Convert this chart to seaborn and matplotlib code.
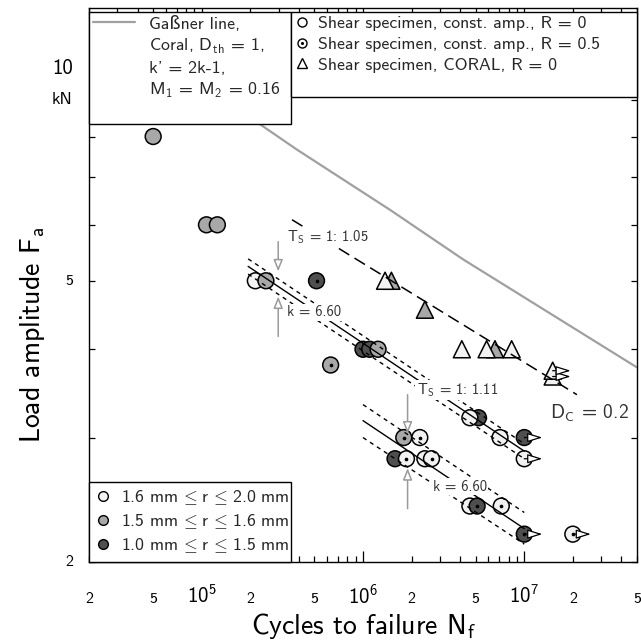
import numpy as np
import pandas as pd
import matplotlib
matplotlib.use("Agg")
import matplotlib.pyplot as plt
import seaborn as sns
from matplotlib.lines import Line2D
from matplotlib import transforms
from matplotlib.ticker import FixedLocator, NullFormatter

# ---------------- data ----------------
# circular markers: shear specimens, constant amplitude
circ_N = [5.0e4, 1.07e5, 1.25e5, 2.15e5, 2.5e5, 5.15e5, 6.3e5, 1.0e6, 1.1e6, 1.24e6,
          1.79e6, 2.25e6, 1.58e6, 1.86e6, 2.42e6, 2.66e6, 5.2e6, 4.6e6, 7.07e6, 1.0e7,
          1.0e7, 4.6e6, 5.1e6, 7.2e6, 1.0e7, 2.0e7]
circ_F = [8.0, 6.0, 6.0, 5.0, 5.0, 5.0, 3.8, 4.0, 4.0, 4.0,
          3.0, 3.0, 2.8, 2.8, 2.8, 2.8, 3.2, 3.2, 3.0, 3.0,
          2.8, 2.4, 2.4, 2.4, 2.19, 2.19]
circ_r = ["mid", "mid", "mid", "large", "mid", "small", "mid", "small", "small", "mid",
          "mid", "large", "small", "large", "large", "large", "small", "large", "large", "small",
          "large", "large", "small", "large", "small", "large"]
circ_R = [0, 0, 0, 0, 0, 0.5, 0.5, 0, 0, 0,
          0.5, 0.5, 0, 0.5, 0, 0.5, 0, 0, 0, 0,
          0, 0, 0.5, 0.5, 0.5, 0.5]
circ_runout = [False] * 19 + [True, True, False, False, False, True, True]

# triangles: shear specimens, CORAL spectrum, R = 0
tri_N = [1.5e6, 1.37e6, 2.42e6, 6.58e6, 4.1e6, 5.84e6, 8.35e6, 1.5e7, 1.5e7]
tri_F = [5.0, 5.0, 4.55, 4.0, 4.0, 4.0, 4.0, 3.66, 3.73]
tri_r = ["mid", "large", "mid", "mid", "large", "large", "large", "large", "large"]
tri_runout = [False] * 7 + [True, True]

# Gassner line (Coral, D_th = 1)
gass_N = [1.2e5, 2.09e5, 3.88e5, 1.47e6, 4.18e6, 5.0e7]
gass_F = [9.2, 8.45, 7.67, 6.30, 5.36, 3.77]

# regression line 1 (k = 6.60, T_S = 1:1.05) with scatter band
reg1_N = [1.94e5, 1.0e7]
reg1_F = [5.24, 2.87]
reg1_up = [5.37, 2.94]
reg1_lo = [5.11, 2.80]
# regression line 2 (k = 6.60, T_S = 1:1.11) with scatter band
reg2_N = [1.0e6, 1.0e7]
reg2_F = [3.17, 2.23]
reg2_up = [3.34, 2.35]
reg2_lo = [3.00, 2.12]
# CORAL line, D_C = 0.2
coral_N = [3.63e5, 2.12e7]
coral_F = [6.10, 3.45]

x_ticks = [2e4, 5e4, 1e5, 2e5, 5e5, 1e6, 2e6, 5e6, 1e7, 2e7, 5e7]
x_tick_labels = ["2", "5", r"$\mathrm{10}^{\mathrm{5}}$", "2", "5", r"$\mathrm{10}^{\mathrm{6}}$",
                 "2", "5", r"$\mathrm{10}^{\mathrm{7}}$", "2", "5"]
y_ticks = [2, 5, 10]
y_tick_labels = ["2", "5", "10"]

r_colors = {"large": "#f2f2f2", "mid": "#a8a8a8", "small": "#4f4f4f"}
r_labels = {"large": r"1.6 mm$\,\leq\,$r$\,\leq\,$2.0 mm",
            "mid": r"1.5 mm$\,\leq\,$r$\,\leq\,$1.6 mm",
            "small": r"1.0 mm$\,\leq\,$r$\,\leq\,$1.5 mm"}

# ---------------- style ----------------
sns.set_theme(style="white")
plt.rcParams["font.family"] = ["cmss10", "DejaVu Sans"]
plt.rcParams["mathtext.fontset"] = "custom"
plt.rcParams["mathtext.rm"] = "cmss10"
plt.rcParams["mathtext.sf"] = "cmss10"
plt.rcParams["mathtext.it"] = "cmss10"
plt.rcParams["mathtext.bf"] = "cmss10"
plt.rcParams["mathtext.fallback"] = "cm"
plt.rcParams["axes.unicode_minus"] = False

fig = plt.figure(figsize=(6.41, 6.44), dpi=100)
ax = fig.add_axes([89 / 641, (644 - 562) / 644, 548 / 641, 554 / 644])
ax.set_xscale("log")
ax.set_yscale("log")
ax.set_xlim(2e4, 5e7)
ax.set_ylim(2, 12.16)

df_c = pd.DataFrame({"N": circ_N, "F": circ_F, "r": circ_r, "R": circ_R, "runout": circ_runout})
df_t = pd.DataFrame({"N": tri_N, "F": tri_F, "r": tri_r, "runout": tri_runout})

GASS_C = "#a0a0a0"
ANN_C = "#333333"

# lines
ax.plot(gass_N, gass_F, color=GASS_C, lw=1.6, zorder=2, solid_capstyle="butt")
ax.plot(reg1_N, reg1_F, color="black", lw=1.0, zorder=4)
ax.plot(reg1_N, reg1_up, color="black", lw=1.0, dashes=(3, 3), zorder=4)
ax.plot(reg1_N, reg1_lo, color="black", lw=1.0, dashes=(3, 3), zorder=4)
ax.plot(reg2_N, reg2_F, color="black", lw=1.0, zorder=4)
ax.plot(reg2_N, reg2_up, color="black", lw=1.0, dashes=(3, 3), zorder=4)
ax.plot(reg2_N, reg2_lo, color="black", lw=1.0, dashes=(3, 3), zorder=4)
ax.plot(coral_N, coral_F, color="black", lw=1.1, dashes=(8, 4), zorder=4)

# markers
sns.scatterplot(data=df_t, x="N", y="F", hue="r", palette=r_colors, marker="^", s=150,
                edgecolor="black", linewidth=1.1, legend=False, ax=ax, zorder=3)
sns.scatterplot(data=df_c, x="N", y="F", hue="r", palette=r_colors, marker="o", s=130,
                edgecolor="black", linewidth=1.1, legend=False, ax=ax, zorder=3)
sns.scatterplot(data=df_c[df_c["R"] == 0.5], x="N", y="F", color="black", marker="o", s=7,
                linewidth=0, legend=False, ax=ax, zorder=3.5)

# run-out arrows
off = ax.transData + transforms.ScaledTranslation(13 / 72, 0, fig.dpi_scale_trans)
for d in (df_c, df_t):
    for n, f in zip(d.loc[d["runout"], "N"], d.loc[d["runout"], "F"]):
        ax.annotate("", xy=(n, f), xycoords=off, xytext=(n, f), textcoords="data",
                    arrowprops=dict(arrowstyle="-|>,head_length=0.9,head_width=0.28",
                                    fc="white", ec="black", lw=0.9, shrinkA=0, shrinkB=0,
                                    mutation_scale=10), zorder=5)

# scatter band arrows (gray, hollow heads)
band_arrows = [(2.98e5, 5.68, 5.155), (2.98e5, 4.17, 4.75), (1.89e6, 3.45, 3.04), (1.89e6, 2.38, 2.715)]
for n, f0, f1 in band_arrows:
    ax.annotate("", xy=(n, f1), xytext=(n, f0),
                arrowprops=dict(arrowstyle="-|>,head_length=0.7,head_width=0.28",
                                fc="white", ec="#9a9a9a", lw=1.1, shrinkA=0, shrinkB=0,
                                mutation_scale=10), zorder=5)

# annotations
bb = dict(facecolor="white", edgecolor="none", pad=1.0)
ax.text(6.06e5, 5.77, r"T$_{\mathrm{S}}$ = 1: 1.05", ha="center", va="center", fontsize=10.5,
        color=ANN_C, bbox=bb, zorder=6)
ax.text(4.97e5, 4.51, "k = 6.60", ha="center", va="center", fontsize=10.5, color=ANN_C, bbox=bb, zorder=6)
ax.text(3.85e6, 3.50, r"T$_{\mathrm{S}}$ = 1: 1.11", ha="center", va="center", fontsize=10.5,
        color=ANN_C, bbox=bb, zorder=6)
ax.text(3.99e6, 2.557, "k = 6.60", ha="center", va="center", fontsize=10.5, color=ANN_C, bbox=bb, zorder=6)
ax.text(2.55e7, 3.25, r"D$_{\mathrm{C}}$ = 0.2", ha="center", va="center", fontsize=14,
        color=ANN_C, bbox=bb, zorder=6)

# ticks
ax.xaxis.set_major_locator(FixedLocator([1e5, 1e6, 1e7]))
ax.xaxis.set_minor_locator(FixedLocator([m * 10 ** e for e in range(4, 8) for m in range(2, 10)]))
ax.yaxis.set_major_locator(FixedLocator([2, 3, 4, 5, 6, 7, 8, 9, 10]))
ax.yaxis.set_minor_locator(FixedLocator([]))
for a in (ax.xaxis, ax.yaxis):
    a.set_major_formatter(NullFormatter())
    a.set_minor_formatter(NullFormatter())
ax.tick_params(which="both", direction="in", top=True, right=True, bottom=True, left=True,
               color="black", width=0.9)
ax.tick_params(axis="x", which="major", length=8)
ax.tick_params(axis="x", which="minor", length=4)
ax.tick_params(axis="y", which="major", length=4)
for s in ax.spines.values():
    s.set_color("black")
    s.set_linewidth(1.0)

tx = transforms.blended_transform_factory(ax.transData, ax.transAxes)
for v, lab in zip(x_ticks, x_tick_labels):
    fs = 15 if "10" in lab else 11.5
    ax.text(v, -41 / 554, lab, transform=tx, ha="center", va="baseline", fontsize=fs, color="black")
ty = transforms.blended_transform_factory(ax.transAxes, ax.transData)
for v, lab in zip(y_ticks, y_tick_labels):
    fs = 15 if lab == "10" else 11.5
    ax.text(-16 / 548, v, lab, transform=ty, ha="right", va="center", fontsize=fs, color="black")
ax.annotate("kN", xy=(-17 / 548, 10), xycoords=ty, xytext=(0, -23), textcoords="offset points",
            ha="right", va="center", fontsize=12.5, color="black")

ax.set_xlabel(r"Cycles to failure N$_{\mathrm{f}}$", fontsize=20, color="black")
ax.set_ylabel(r"Load amplitude F$_{\mathrm{a}}$", fontsize=20, color="black")
ax.xaxis.set_label_coords(0.5, -(611 - 562) / 554)
ax.yaxis.set_label_coords(-(89 - 47) / 548, 1 - (335 - 8) / 554)

# legends
W = (291 - 89) / 548
TOP = 1 - 4 / 554
blank = Line2D([], [], color="none")
left_handles = [Line2D([], [], color=GASS_C, lw=1.6), blank, blank, blank, blank]
left_labels = ["Gaßner line,", r"Coral, D$_{\mathrm{th}}$ = 1,", "k' = 2k-1,",
               r"M$_{\mathrm{1}}$ = M$_{\mathrm{2}}$ = 0.16", " "]
leg1 = ax.legend(left_handles, left_labels, loc="upper left", bbox_to_anchor=(0, 0, W, TOP),
                 mode="expand", borderaxespad=0, fontsize=12.8, frameon=True, fancybox=False,
                 edgecolor="black", framealpha=1, handlelength=2.4, handletextpad=0.75,
                 labelspacing=0.28, borderpad=0.2)
leg1.get_frame().set_linewidth(1.0)
leg1.set_zorder(10)
ax.add_artist(leg1)

mk = dict(color="none", mfc="white", mec="black", mew=1.0)
h_c = Line2D([], [], marker="o", ms=6.5, **mk)
h_dot = Line2D([], [], marker="o", ms=2.2, color="none", mfc="black", mec="black", mew=0)
h_t = Line2D([], [], marker="^", ms=7, **mk)
leg2 = ax.legend([h_c, (h_c, h_dot), h_t, blank],
                 ["Shear specimen, const. amp., R = 0", "Shear specimen, const. amp., R = 0.5",
                  "Shear specimen, CORAL, R = 0", " "],
                 loc="upper left", bbox_to_anchor=(W, 0, 1 - W, TOP), mode="expand",
                 borderaxespad=0, fontsize=12.8, frameon=True, fancybox=False, edgecolor="black",
                 framealpha=1, handlelength=0.8, handletextpad=0.5, labelspacing=0.3, borderpad=0.2)
leg2.get_frame().set_linewidth(1.0)
leg2.set_zorder(10)
ax.add_artist(leg2)

h_r = [Line2D([], [], marker="o", ms=7, color="none", mfc=r_colors[k], mec="black", mew=1.0)
       for k in ("large", "mid", "small")]
leg3 = ax.legend(h_r, [r_labels[k] for k in ("large", "mid", "small")], loc="lower left",
                 bbox_to_anchor=(0, 0, W, 1), mode="expand", borderaxespad=0, fontsize=12.8,
                 frameon=True, fancybox=False, edgecolor="black", framealpha=1,
                 handlelength=0.8, handletextpad=0.6, labelspacing=0.3, borderpad=0.4)
leg3.get_frame().set_linewidth(1.0)
leg3.set_zorder(10)

fig.savefig("out.png", dpi=100)
